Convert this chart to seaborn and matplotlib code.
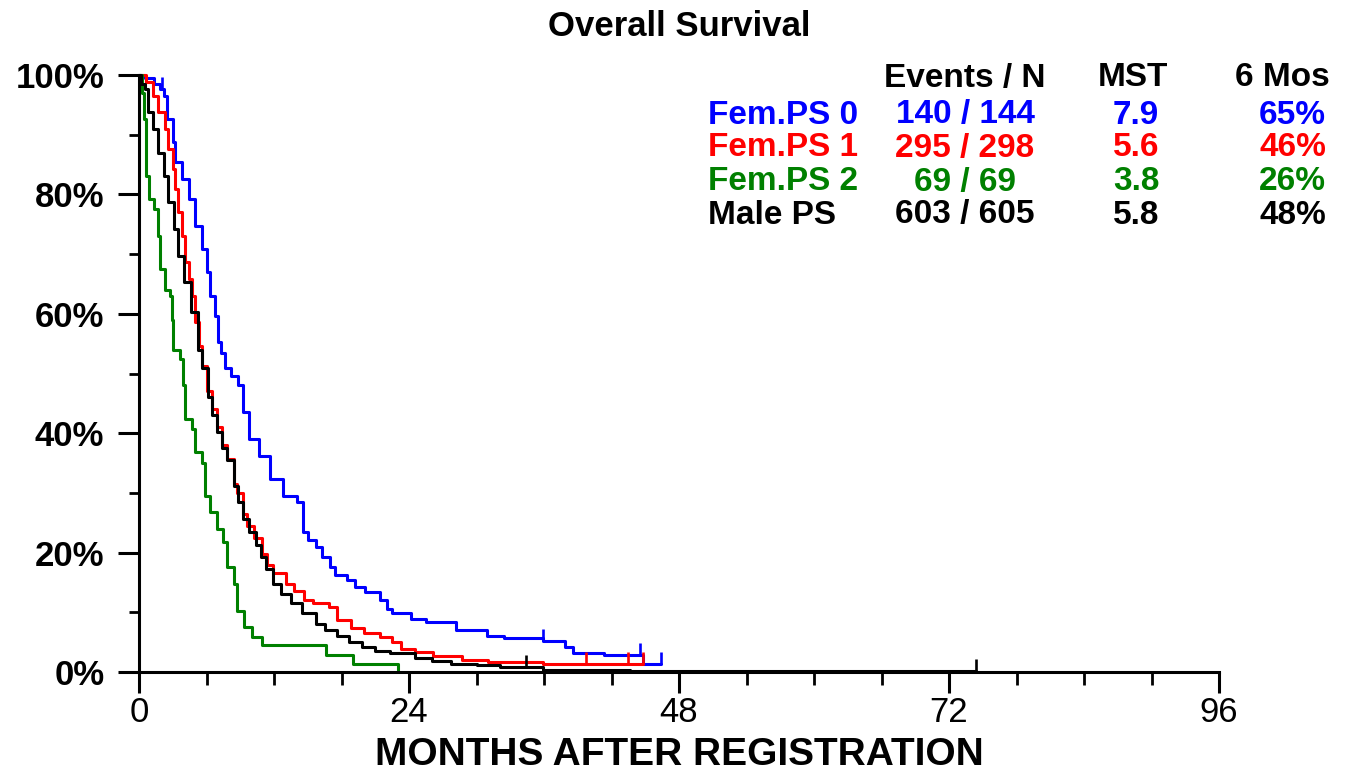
import numpy as np
import pandas as pd
import matplotlib
matplotlib.use("Agg")
import matplotlib.pyplot as plt
from matplotlib.ticker import MultipleLocator, FixedLocator
import seaborn as sns

# ---------------- data ----------------
groups = ["Fem.PS 0", "Fem.PS 1", "Fem.PS 2", "Male PS"]
colors = ["#0000FF", "#FF0000", "#008000", "#000000"]

t_ps0 = [0, 0.5, 1.3, 1.9, 2.2, 2.5, 3.0, 3.2, 3.8, 4.4, 5.0, 5.6, 6.0, 6.3, 6.75, 7.0, 7.3, 7.6,
         8.2, 8.8, 9.2, 9.8, 10.7, 11.6, 12.8, 14.0, 14.6, 15.0, 15.7, 16.3, 17.0, 17.4, 18.5, 19.2,
         20.1, 21.4, 22.0, 22.5, 24.2, 25.5, 28.2, 30.9, 32.4, 35.9, 37.9, 38.6, 41.3, 44.8, 46.4]
s_ps0 = [100, 99.5, 98.5, 97.6, 96.5, 92.6, 88.8, 85.4, 82.6, 79.2, 74.7, 70.9, 67.0, 63.0, 59.6, 55.3, 53.5, 51.0,
         49.6, 48.0, 43.5, 39.0, 36.2, 32.3, 29.5, 28.5, 23.4, 22.1, 21.0, 19.3, 17.6, 16.2, 15.4, 14.2,
         13.4, 12.0, 10.6, 9.8, 8.9, 8.4, 7.0, 6.1, 5.7, 5.2, 4.2, 3.2, 2.9, 1.3, 1.3]

t_ps1 = [0, 0.6, 1.2, 1.7, 2.3, 2.6, 3.0, 3.2, 3.5, 3.8, 4.1, 4.4, 4.7, 5.0, 5.3, 5.6, 6.0, 6.5, 6.9,
         7.4, 7.8, 8.4, 8.7, 9.2, 9.6, 10.2, 10.9, 11.4, 11.9, 13.1, 13.8, 14.7, 15.5, 16.9, 17.6, 18.8,
         20.0, 21.4, 22.5, 23.3, 24.5, 26.1, 28.7, 31.0, 35.9, 44.8]
s_ps1 = [100, 98.8, 96.5, 93.8, 91.0, 87.6, 84.3, 80.9, 77.0, 73.0, 68.6, 65.8, 63.0, 58.6, 54.6, 51.3, 47.0, 44.0, 41.0,
         38.0, 35.7, 31.5, 30.0, 26.5, 24.5, 22.5, 19.8, 18.0, 16.5, 14.8, 13.5, 12.0, 11.5, 10.9, 8.7, 7.3,
         6.6, 5.9, 5.0, 3.9, 3.3, 2.6, 2.0, 1.7, 1.3, 1.3]

t_ps2 = [0, 0.3, 0.4, 0.6, 0.9, 1.3, 1.7, 1.85, 2.3, 2.75, 2.9, 3.05, 3.6, 3.9, 4.1, 4.7, 5.0, 5.6, 5.9,
         6.3, 6.9, 7.5, 7.8, 8.4, 8.7, 9.3, 10.0, 10.9, 16.6, 19.0, 23.0]
s_ps2 = [100, 97.0, 92.6, 83.0, 79.2, 77.5, 73.0, 67.5, 64.0, 63.0, 59.0, 54.0, 52.4, 48.0, 42.4, 40.7, 36.8, 35.0, 29.5,
         26.8, 24.0, 21.7, 17.6, 14.8, 10.3, 7.5, 5.9, 4.5, 2.8, 1.4, 0.0]

t_male = [0, 0.2, 0.5, 0.8, 1.2, 1.7, 2.2, 2.6, 3.1, 3.5, 4.0, 4.6, 5.2, 5.6, 6.1, 6.5, 6.9, 7.4, 7.8,
          8.4, 8.8, 9.2, 9.8, 10.4, 10.8, 11.3, 11.9, 12.6, 13.5, 14.5, 15.7, 16.5, 17.6, 18.7, 19.8,
          21.0, 22.3, 24.5, 26.0, 27.7, 30.0, 32.1, 35.9, 43.6, 74.4]
s_male = [100, 98.5, 97.6, 93.8, 91.0, 87.0, 83.0, 78.7, 74.2, 69.7, 65.3, 60.3, 54.0, 51.0, 46.0, 43.0, 40.2, 37.5, 35.5,
          31.2, 28.5, 25.6, 23.5, 21.2, 19.3, 17.3, 14.8, 13.0, 11.5, 9.8, 8.1, 7.0, 6.1, 5.0, 4.2,
          3.6, 3.1, 2.4, 1.8, 1.4, 1.1, 0.8, 0.4, 0.2, 0.2]

# censoring marks (months)
cens_ps0 = [2.0, 35.9, 44.5, 46.4]
cens_ps1 = [39.7, 43.5, 44.8]
cens_ps2 = []
cens_male = [34.4, 74.4]

# summary table
events_n = ["140 / 144", "295 / 298", "69 / 69", "603 / 605"]
mst = ["7.9", "5.6", "3.8", "5.8"]
six_mos = ["65%", "46%", "26%", "48%"]

x_major = [0, 24, 48, 72, 96]
y_major = [0, 20, 40, 60, 80, 100]
y_labels = ["0%", "20%", "40%", "60%", "80%", "100%"]

# ---------------- build frame ----------------
times = [t_ps0, t_ps1, t_ps2, t_male]
survs = [s_ps0, s_ps1, s_ps2, s_male]
cens = [cens_ps0, cens_ps1, cens_ps2, cens_male]
df = pd.concat([pd.DataFrame({"group": g, "month": t, "surv": s})
                for g, t, s in zip(groups, times, survs)], ignore_index=True)

sns.set_style("white")
plt.rcParams["font.family"] = ["Liberation Sans", "DejaVu Sans"]
plt.rcParams["text.color"] = "black"
plt.rcParams["axes.labelcolor"] = "black"
plt.rcParams["xtick.color"] = "black"
plt.rcParams["ytick.color"] = "black"

W, H = 1356, 777
fig = plt.figure(figsize=(W / 100, H / 100), dpi=100)
ax = fig.add_axes([139 / W, (H - 672) / H, 1080 / W, 597 / H])

sns.lineplot(data=df, x="month", y="surv", hue="group", hue_order=groups,
             palette=dict(zip(groups, colors)), drawstyle="steps-post",
             estimator=None, sort=False, linewidth=2.2, legend=False, ax=ax)
for line in ax.lines:
    line.set_clip_on(False)

# censor ticks (upward)
for t_arr, s_arr, c_arr, col in zip(times, survs, cens, colors):
    if not c_arr:
        continue
    idx = np.searchsorted(np.array(t_arr), np.array(c_arr), side="right") - 1
    lev = np.array(s_arr)[idx]
    ax.vlines(c_arr, lev, lev + 2.0, colors=col, linewidth=1.9, clip_on=False)

ax.set_xlim(0, 96)
ax.set_ylim(0, 100)
ax.xaxis.set_major_locator(FixedLocator(x_major))
ax.xaxis.set_minor_locator(MultipleLocator(6))
ax.yaxis.set_major_locator(FixedLocator(y_major))
ax.yaxis.set_minor_locator(FixedLocator([10, 30, 50, 70, 90]))
ax.set_xticklabels([str(v) for v in x_major])
ax.set_yticklabels(y_labels)

for side in ["top", "right"]:
    ax.spines[side].set_visible(False)
for side in ["left", "bottom"]:
    ax.spines[side].set_linewidth(2.2)
    ax.spines[side].set_color("black")

ax.tick_params(axis="y", which="major", direction="out", length=15, width=2.2, pad=10,
               labelsize=25, left=True, colors="black")
ax.tick_params(axis="y", which="minor", direction="out", length=7.5, width=2.0, left=True, colors="black")
ax.tick_params(axis="x", which="major", direction="out", length=15, width=2.2, pad=2,
               labelsize=25, bottom=True, colors="black")
ax.tick_params(axis="x", which="minor", direction="out", length=9, width=2.0, bottom=True, colors="black")
for lab in ax.get_yticklabels():
    lab.set_fontweight("bold")

ax.set_xlabel("MONTHS AFTER REGISTRATION", fontsize=28, fontweight="bold", labelpad=6, color="black")
ax.set_ylabel("")
ax.grid(False)

fig.text(679 / W, 1 - 27 / H, "Overall Survival", ha="center", va="center",
         fontsize=25, fontweight="bold", color="black")

def fx(x):
    return x / W

def fy(y):
    return 1 - y / H

fs = 24
fig.text(fx(965), fy(78), "Events / N", ha="center", va="center", fontsize=fs, fontweight="bold", color="black")
fig.text(fx(1133), fy(78), "MST", ha="center", va="center", fontsize=fs, fontweight="bold", color="black")
fig.text(fx(1330), fy(78), "6 Mos", ha="right", va="center", fontsize=fs, fontweight="bold", color="black")
row_y = [115, 148, 182, 215]
for g, c, e, m, s6, yy in zip(groups, colors, events_n, mst, six_mos, row_y):
    fig.text(fx(708), fy(yy), g, ha="left", va="center", fontsize=fs, fontweight="bold", color=c)
    fig.text(fx(965), fy(yy), e, ha="center", va="center", fontsize=fs, fontweight="bold", color=c)
    fig.text(fx(1136), fy(yy), m, ha="center", va="center", fontsize=fs, fontweight="bold", color=c)
    fig.text(fx(1326), fy(yy), s6, ha="right", va="center", fontsize=fs, fontweight="bold", color=c)

fig.savefig("out.png", dpi=100, facecolor="white")
